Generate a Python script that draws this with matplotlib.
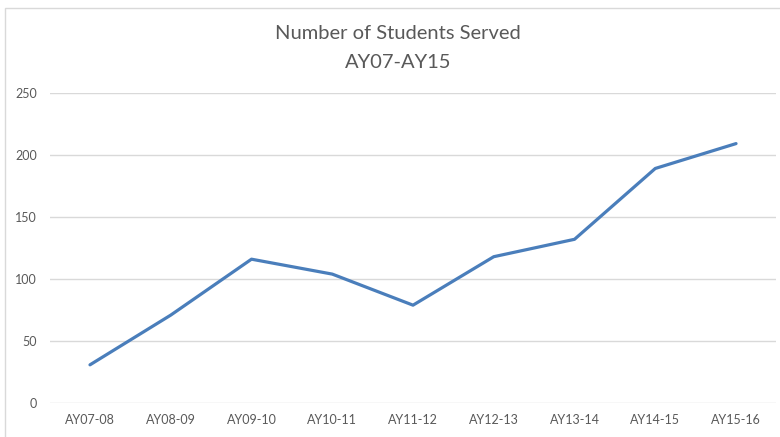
import numpy as np
import matplotlib.pyplot as plt
from matplotlib.patches import Rectangle

# data
years = ["AY07-08", "AY08-09", "AY09-10", "AY10-11", "AY11-12",
         "AY12-13", "AY13-14", "AY14-15", "AY15-16"]
students = [31, 71, 116, 104, 79, 118, 132, 189, 209]
yticks = [0, 50, 100, 150, 200, 250]

plt.rcParams['font.family'] = ['Lato', 'DejaVu Sans']

fig = plt.figure(figsize=(7.8, 4.37), dpi=100)
ax = fig.add_axes([0.0636, 0.077, 0.9318, 0.711])

x = np.arange(len(years))
ax.plot(x, students, color='#4a7ebb', linewidth=2.3, solid_capstyle='round',
        solid_joinstyle='round', zorder=3)

ax.set_xlim(-0.5, len(years) - 0.5)
ax.set_ylim(0, 250)
ax.set_xticks(x)
ax.set_xticklabels(years)
ax.set_yticks(yticks)
ax.grid(axis='y', color='#d9d9d9', linewidth=1)
ax.set_axisbelow(True)
for s in ax.spines.values():
    s.set_visible(False)
ax.tick_params(length=0, labelsize=9, labelcolor='#595959')
ax.tick_params(axis='x', pad=8)
ax.tick_params(axis='y', pad=9)

fig.text(0.51, 0.924, "Number of Students Served", ha='center', va='center',
         fontsize=14.5, color='#595959')
fig.text(0.51, 0.858, "AY07-AY15", ha='center', va='center',
         fontsize=14.5, color='#595959')

# chart frame
fig.patches.append(Rectangle((4.5 / 780, -0.05), 1.0, 1 - 7.5 / 437 + 0.05,
                             transform=fig.transFigure, fill=False,
                             edgecolor='#d9d9d9', linewidth=1))

fig.savefig("out.png", dpi=100)
